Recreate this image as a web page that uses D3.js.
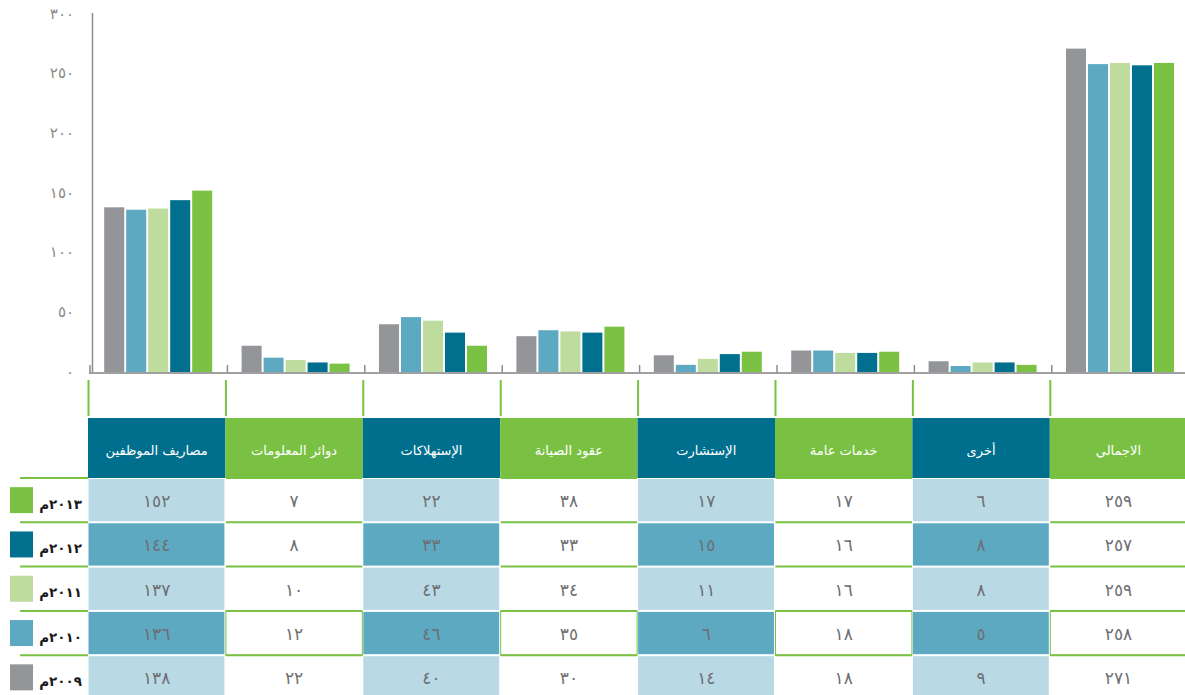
<!DOCTYPE html>
<html>
<head>
<meta charset="utf-8">
<script src="https://cdn.jsdelivr.net/npm/d3@7"></script>
<style>
  body { margin: 0; background: #fff; }
  svg { display: block; font-family: "DejaVu Sans", sans-serif; }
</style>
</head>
<body>
<div id="chart"></div>
<script>
// categories, left to right (same order in chart and table)
var categories = ["مصاريف الموظفين", "دوائر المعلومات", "الإستهلاكات", "عقود الصيانة",
    "الإستشارت", "خدمات عامة", "أخرى", "الاجمالي"];

// years, in bar order inside each group
var years = ["2009", "2010", "2011", "2012", "2013"];
var yearColors = ["#939598", "#5ea9c2", "#bedc9d", "#00708e", "#7bc143"];

// values per year (millions)
var v2009 = [138, 22, 40, 30, 14, 18, 9, 271];
var v2010 = [136, 12, 46, 35, 6, 18, 5, 258];
var v2011 = [137, 10, 43, 34, 11, 16, 8, 259];
var v2012 = [144, 8, 33, 33, 15, 16, 8, 257];
var v2013 = [152, 7, 22, 38, 17, 17, 6, 259];
var yearValues = [v2009, v2010, v2011, v2012, v2013];

var yTicks = [0, 50, 100, 150, 200, 250, 300];

// table header colours alternate
var headTeal = "#006f8e", headGreen = "#7ac143";
var cellLight = "#b9d9e5", cellMid = "#5da9c2";

var W = 1185, H = 695;

// arabic-indic digits
function ar(n) {
    return String(n).replace(/\d/g, function(d) { return "٠١٢٣٤٥٦٧٨٩"[+d]; });
}

var svg = d3.select("#chart").append("svg")
    .attr("width", W)
    .attr("height", H);

// ---- bar chart ----
var x0 = d3.scaleBand()
    .domain(categories)
    .range([89.5, 89.5 + 137.4 * categories.length]);

var groupW = 108;
var x1 = d3.scaleBand()
    .domain(years)
    .range([(x0.bandwidth() - groupW) / 2, (x0.bandwidth() + groupW) / 2])
    .paddingInner(0.09);

var y = d3.scaleLinear()
    .domain([0, 300])
    .range([372, 14]);

// y labels
svg.append("g")
    .selectAll("text")
    .data(yTicks)
    .enter()
    .append("text")
    .attr("x", 74)
    .attr("y", function(d) { return y(d); })
    .attr("dy", "0.3em")
    .attr("text-anchor", "end")
    .style("font-size", "15px")
    .style("fill", "#8a8a8a")
    .text(function(d) { return ar(d); });

// y axis line
svg.append("line")
    .attr("x1", 92.5).attr("x2", 92.5)
    .attr("y1", 13).attr("y2", y(0))
    .style("stroke", "#8c8c8c")
    .style("stroke-width", 1.5);

// bars
var groups = svg.append("g")
    .selectAll("g")
    .data(categories)
    .enter()
    .append("g")
    .attr("transform", function(d) { return "translate(" + x0(d) + ",0)"; });

groups.selectAll("rect")
    .data(function(d, i) {
        return years.map(function(yr, j) {
            return {year: yr, value: yearValues[j][i], color: yearColors[j]};
        });
    })
    .enter()
    .append("rect")
    .attr("x", function(d) { return x1(d.year); })
    .attr("width", x1.bandwidth())
    .attr("y", function(d) { return y(d.value); })
    .attr("height", function(d) { return y(0) - y(d.value); })
    .style("fill", function(d) { return d.color; });

// baseline
svg.append("line")
    .attr("x1", 89).attr("x2", W)
    .attr("y1", 373).attr("y2", 373)
    .style("stroke", "#a0a0a0")
    .style("stroke-width", 2);

// small ticks at group boundaries
svg.append("g")
    .selectAll("line")
    .data(categories)
    .enter()
    .append("line")
    .attr("x1", function(d) { return x0(d) + 0.5; })
    .attr("x2", function(d) { return x0(d) + 0.5; })
    .attr("y1", 365).attr("y2", 373)
    .style("stroke", "#8c8c8c")
    .style("stroke-width", 1.5);

// ---- table ----
var tx = d3.scaleBand()
    .domain(categories)
    .range([88, 88 + 137.4 * categories.length]);

// green connectors between chart and table
svg.append("g")
    .selectAll("line")
    .data(categories)
    .enter()
    .append("line")
    .attr("x1", function(d) { return tx(d) + 0.5; })
    .attr("x2", function(d) { return tx(d) + 0.5; })
    .attr("y1", 380).attr("y2", 416)
    .style("stroke", headGreen)
    .style("stroke-width", 2);

var headTop = 418, headH = 60;
var rowTop = 478, rowH = 44.3;
var tableYears = years.slice().reverse();  // 2013 on top

var cols = svg.append("g")
    .selectAll("g")
    .data(categories)
    .enter()
    .append("g")
    .attr("transform", function(d) { return "translate(" + tx(d) + ",0)"; });

cols.append("rect")
    .attr("x", 0)
    .attr("y", headTop)
    .attr("width", tx.bandwidth())
    .attr("height", headH)
    .style("fill", function(d, i) { return i % 2 === 0 ? headTeal : headGreen; });

cols.append("text")
    .attr("x", tx.bandwidth() / 2)
    .attr("y", headTop + headH / 2 + 2)
    .attr("dy", "0.35em")
    .attr("text-anchor", "middle")
    .style("font-size", "13px")
    .style("fill", "#ffffff")
    .text(function(d) { return d; });

cols.each(function(cat, ci) {
    var col = d3.select(this);
    var teal = ci % 2 === 0;
    var w = tx.bandwidth();

    tableYears.forEach(function(yr, ri) {
        var top = rowTop + ri * rowH;
        var j = years.indexOf(yr);
        if (teal) {
            col.append("rect")
                .attr("x", 0.5)
                .attr("y", top + 1)
                .attr("width", w - 1.5)
                .attr("height", rowH - 2)
                .style("fill", ri % 2 === 0 ? cellLight : cellMid);
        } else {
            if (ri === 3) {
                col.append("rect")
                    .attr("x", 0.5)
                    .attr("y", top)
                    .attr("width", w - 1)
                    .attr("height", rowH)
                    .style("fill", "none")
                    .style("stroke", headGreen)
                    .style("stroke-width", 1);
            }
            col.append("line")
                .attr("x1", 0.5).attr("x2", w - 0.5)
                .attr("y1", top).attr("y2", top)
                .style("stroke", headGreen)
                .style("stroke-width", 2);
        }
        col.append("text")
            .attr("x", w / 2)
            .attr("y", top + rowH / 2 + 1)
            .attr("dy", "0.35em")
            .attr("text-anchor", "middle")
            .style("font-size", "17px")
            .style("fill", "#6d6e71")
            .text(ar(yearValues[j][ci]));
    });
});

// legend on the left of the table
var legend = svg.append("g")
    .selectAll("g")
    .data(tableYears)
    .enter()
    .append("g")
    .attr("transform", function(d, i) { return "translate(0," + (rowTop + i * rowH) + ")"; });

legend.append("line")
    .attr("x1", 20).attr("x2", 88)
    .attr("y1", 0).attr("y2", 0)
    .style("stroke", headGreen)
    .style("stroke-width", 2);

legend.append("rect")
    .attr("x", 10)
    .attr("y", rowH / 2 - 13)
    .attr("width", 23)
    .attr("height", 26)
    .style("fill", function(d) { return yearColors[years.indexOf(d)]; });

legend.append("text")
    .attr("x", 82)
    .attr("y", rowH / 2 + 4)
    .attr("dy", "0.35em")
    .attr("text-anchor", "end")
    .style("font-size", "13.5px")
    .style("font-weight", "bold")
    .style("fill", "#1a1a1a")
    .text(function(d) { return ar(d) + "م"; });
</script>
</body>
</html>
